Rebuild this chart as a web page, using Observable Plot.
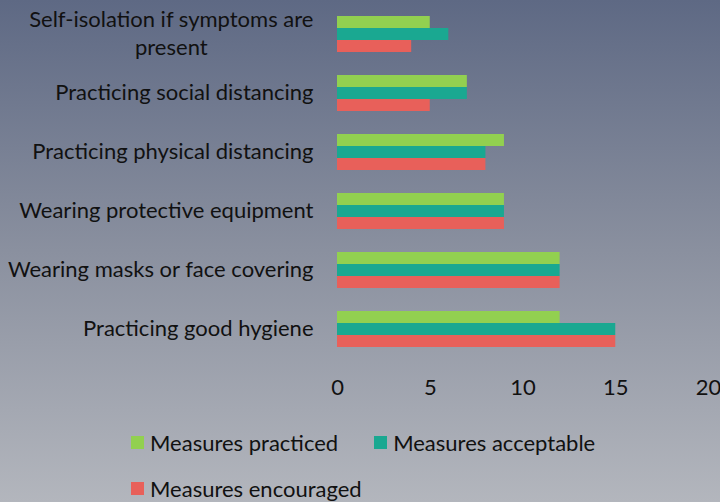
<!DOCTYPE html>
<html>
<head>
<meta charset="utf-8">
<script src="https://cdn.jsdelivr.net/npm/d3@7"></script>
<script src="https://cdn.jsdelivr.net/npm/@observablehq/plot@0.6"></script>
<style>
  html, body { margin: 0; padding: 0; }
  body {
    width: 720px; height: 502px; overflow: hidden; position: relative;
    background: linear-gradient(to bottom, #5e6984 0%, #8a909f 50%, #b3b6bd 100%);
    font-family: Lato, "Open Sans", sans-serif;
  }
  #chart { position: absolute; left: 0; top: 0; }
  #legend {
    position: absolute; left: 131px; top: 428px; width: 480px;
    display: flex; flex-wrap: wrap; column-gap: 36px; row-gap: 18px;
    font-size: 22px; color: #111;
  }
  .item { display: flex; align-items: center; height: 28px; }
  .sw { width: 13px; height: 13px; margin-right: 6px; }
</style>
</head>
<body>
<div id="chart"></div>
<div id="legend"></div>
<script>
const categories = [
  "Self-isolation if symptoms are present",
  "Practicing social distancing",
  "Practicing physical distancing",
  "Wearing protective equipment",
  "Wearing masks or face covering",
  "Practicing good hygiene"
];
const tickLabels = [
  "Self-isolation if symptoms are\npresent",
  "Practicing social distancing",
  "Practicing physical distancing",
  "Wearing protective equipment",
  "Wearing masks or face covering",
  "Practicing good hygiene"
];
const series = ["Measures practiced", "Measures acceptable", "Measures encouraged"];
const practiced  = [5, 7, 9, 9, 12, 12];
const acceptable = [6, 7, 8, 9, 12, 15];
const encouraged = [4, 5, 8, 9, 12, 15];
const colors = ["#92d050", "#1aa891", "#e8605a"];
const xTicks = [0, 5, 10, 15, 20];

const values = [practiced, acceptable, encouraged];
const data = [];
categories.forEach((c, i) => {
  series.forEach((s, j) => data.push({category: c, series: s, value: values[j][i]}));
});
const labelOf = new Map(categories.map((c, i) => [c, tickLabels[i]]));

const plot = Plot.plot({
  width: 720,
  height: 420,
  marginLeft: 337,
  marginRight: 12,
  marginTop: 3,
  marginBottom: 61,
  style: {background: "transparent", fontFamily: "Lato, 'Open Sans', sans-serif", fontSize: "22px", color: "#111", overflow: "visible"},
  x: {domain: [0, 20], ticks: xTicks, label: null, axis: null},
  y: {domain: series, padding: 0, axis: null},
  fy: {domain: categories, paddingInner: 0.373, paddingOuter: 0.186, label: null, axis: null},
  color: {domain: series, range: colors},
  marks: [
    Plot.barX(data, {fy: "category", y: "series", x: "value", fill: "series", inset: 0}),
    Plot.axisFy({anchor: "left", tickSize: 0, tickPadding: 24, dy: -2, label: null, tickFormat: d => labelOf.get(d), lineHeight: 1.3, fontSize: 22, fill: "#111"}),
    Plot.axisX({ticks: xTicks, tickSize: 0, tickPadding: 32, label: null, fontSize: 22, fill: "#111", facetAnchor: "bottom"})
  ]
});
document.getElementById("chart").appendChild(plot);

// center the lines of multi-line labels within their block
plot.querySelectorAll("text").forEach(t => {
  const spans = t.querySelectorAll("tspan");
  if (spans.length > 1) {
    const w = t.getBBox().width;
    t.setAttribute("text-anchor", "middle");
    spans.forEach(s => s.setAttribute("x", -w / 2));
  }
});

const legend = document.getElementById("legend");
series.forEach((s, j) => {
  const it = document.createElement("div");
  it.className = "item";
  const sw = document.createElement("span");
  sw.className = "sw";
  sw.style.background = colors[j];
  const tx = document.createElement("span");
  tx.textContent = s;
  it.appendChild(sw); it.appendChild(tx);
  legend.appendChild(it);
});
</script>
</body>
</html>
